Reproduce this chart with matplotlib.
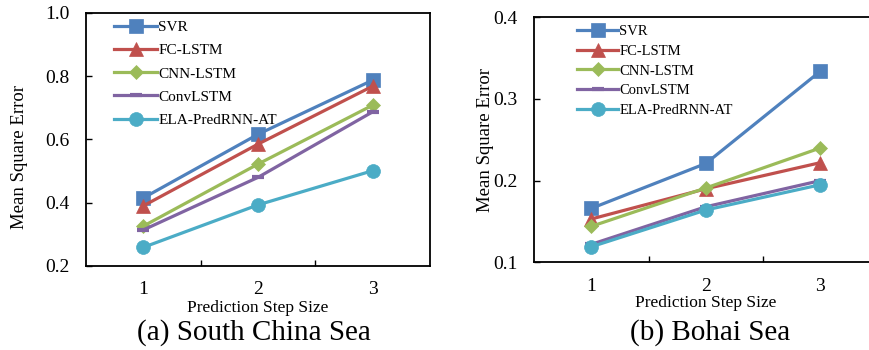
import matplotlib.pyplot as plt

plt.rcParams['font.family'] = ['Liberation Serif', 'DejaVu Serif']

steps = [1, 2, 3]
models = ['SVR', 'FC-LSTM', 'CNN-LSTM', 'ConvLSTM', 'ELA-PredRNN-AT']

# (a) South China Sea
scs_svr = [0.415, 0.616, 0.787]
scs_fc = [0.390, 0.585, 0.768]
scs_cnn = [0.326, 0.522, 0.708]
scs_conv = [0.314, 0.480, 0.687]
scs_ela = [0.259, 0.393, 0.501]

# (b) Bohai Sea
bh_svr = [0.166, 0.221, 0.334]
bh_fc = [0.153, 0.190, 0.222]
bh_cnn = [0.144, 0.191, 0.240]
bh_conv = [0.122, 0.168, 0.200]
bh_ela = [0.119, 0.164, 0.195]

colors = ['#4F81BD', '#C0504D', '#9BBB59', '#8064A2', '#4BACC6']
markers = ['s', '^', 'D', '_', 'o']
msizes = [10, 10, 7, 8, 10]


def draw_panel(ax, series, ylim, yticks, leg_x, leg_fs, leg_spacing):
    for vals, name, c, m, ms in zip(series, models, colors, markers, msizes):
        ax.plot(steps, vals, color=c, lw=2.3, marker=m, markersize=ms,
                markeredgewidth=3 if m == '_' else 0.5, markeredgecolor=c,
                label=name)
    ax.set_xlim(0.5, 3.5)
    ax.set_ylim(*ylim)
    ax.set_yticks(yticks)
    ax.set_yticklabels(['%.1f' % t for t in yticks])
    ax.set_xticks(steps)
    ax.set_xticks([1.5, 2.5], minor=True)
    ax.tick_params(axis='x', which='major', length=0, labelsize=14)
    ax.tick_params(axis='x', which='minor', direction='in', length=4, width=1)
    ax.tick_params(axis='y', direction='in', length=4, width=1, pad=12,
                   labelsize=14)
    for s in ax.spines.values():
        s.set_linewidth(1.3)
    ax.set_ylabel('Mean Square Error', fontsize=13.5)
    ax.legend(loc='upper left', frameon=False, fontsize=leg_fs,
              handlelength=2.8, handletextpad=0.1,
              labelspacing=leg_spacing, borderaxespad=0.2,
              bbox_to_anchor=(leg_x, 1.005))


fig = plt.figure(figsize=(8.7, 3.5), dpi=100)
ax1 = fig.add_axes([0.0989, 0.24, 0.3954, 0.7237])
ax2 = fig.add_axes([0.6138, 0.2506, 0.395, 0.70])

draw_panel(ax1, [scs_svr, scs_fc, scs_cnn, scs_conv, scs_ela],
           (0.2, 1.0), [0.2, 0.4, 0.6, 0.8, 1.0], 0.055, 11, 0.62)
draw_panel(ax2, [bh_svr, bh_fc, bh_cnn, bh_conv, bh_ela],
           (0.1, 0.4), [0.1, 0.2, 0.3, 0.4], 0.1, 10.5, 0.45)

ax1.yaxis.set_label_coords(-0.17, 0.43)
ax2.yaxis.set_label_coords(-0.117, 0.5)

ax1.tick_params(axis='x', which='major', pad=11)
ax2.tick_params(axis='x', which='major', pad=11)
ax1.set_xlabel('Prediction Step Size', fontsize=12.5, labelpad=1)
ax2.set_xlabel('Prediction Step Size', fontsize=12.5, labelpad=0)

fig.text(0.292, 0.049, '(a) South China Sea', ha='center', va='center',
         fontsize=21)
fig.text(0.816, 0.049, '(b) Bohai Sea', ha='center', va='center',
         fontsize=21)

fig.savefig('out.png', dpi=100)
